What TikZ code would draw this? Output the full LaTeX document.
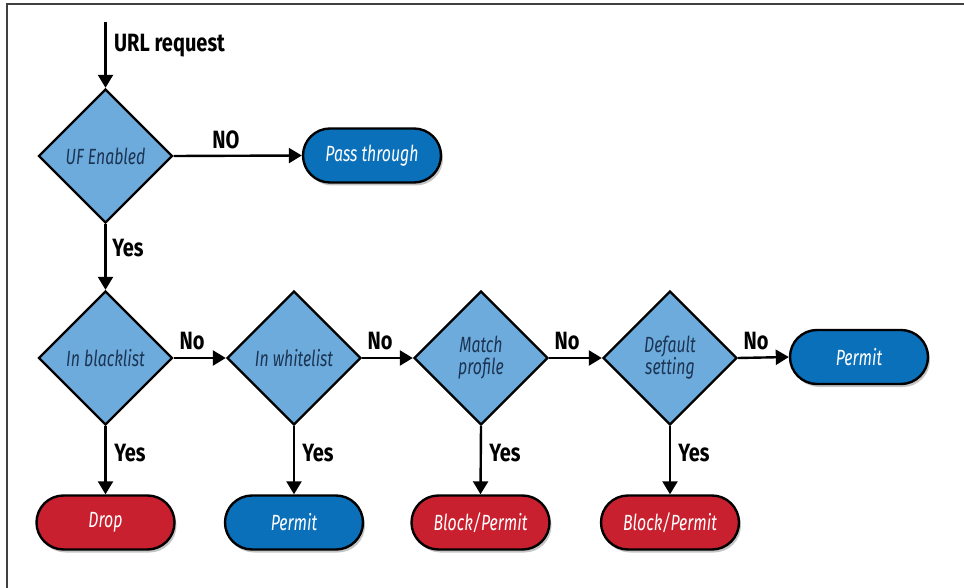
\documentclass[tikz,border=0pt]{standalone}
\usepackage{fontspec}
\setmainfont{Fira Sans}[FakeStretch=0.8, ItalicFeatures={FakeStretch=0.72}]
\usetikzlibrary{shapes.geometric,arrows.meta,shadows}
\definecolor{dfill}{RGB}{108,171,219}
\definecolor{dtext}{RGB}{28,52,84}
\definecolor{pblue}{RGB}{11,112,186}
\definecolor{pred}{RGB}{200,32,46}
\tikzset{
  decision/.style={diamond, draw=black, line width=2.4pt, fill=dfill,
    minimum width=134pt, minimum height=134pt, inner sep=0pt, align=center,
    font=\fontsize{22}{22}\selectfont\itshape, text=dtext},
  term/.style={rectangle, rounded corners=27pt, draw=black, line width=2.4pt,
    minimum width=138pt, minimum height=54pt, inner sep=0pt,
    font=\fontsize{22}{22}\selectfont\itshape, text=white,
    drop shadow={shadow xshift=2pt, shadow yshift=-3pt, fill=black!45, opacity=0.5}},
  arr/.style={line width=2.4pt, -{Triangle[length=13pt,width=15pt]}},
  lab/.style={font=\fontsize{25}{26}\selectfont\bfseries, text=black, inner sep=0pt}
}
\begin{document}
\begin{tikzpicture}[x=1pt,y=-1pt]
\useasboundingbox (0,0) rectangle (964,588);
\draw[line width=1.5pt, black!75] (7,588) -- (7,4) -- (964,4);

\node[decision] (uf) at (105.5,156) {UF Enabled};
\node[term, fill=pblue] (pass) at (372,155.5) {Pass through};
\coordinate (start) at (105.5,22);
\draw[arr] (start) -- (uf.north);
\node[lab, anchor=west] (url) at (114,46) {URL request};
\draw[arr] (uf.east) -- (pass.west);
\node[lab] (no0) at (226,140) {NO};

\node[decision] (bl) at (105.5,358) {In blacklist};
\node[decision] (wl) at (294,358) {In whitelist};
\node[decision] (mp) at (481,358) {Match\\profile};
\node[decision] (ds) at (670,358) {Default\\setting};
\node[term, fill=pblue] (perm1) at (859,357) {Permit};

\draw[arr] (uf.south) -- (bl.north);
\node[lab] (y0) at (128,248) {Yes};

\draw[arr] (bl.east) -- (wl.west);
\node[lab] (n1) at (192,341) {No};
\draw[arr] (wl.east) -- (mp.west);
\node[lab] (n2) at (380,341) {No};
\draw[arr] (mp.east) -- (ds.west);
\node[lab] (n3) at (567,341) {No};
\draw[arr] (ds.east) -- (perm1.west);
\node[lab] (n4) at (756,341) {No};

\node[term, fill=pred] (drop) at (105.5,522.5) {Drop};
\node[term, fill=pblue] (perm2) at (294,522.5) {Permit};
\node[term, fill=pred] (bp1) at (480.5,522.5) {Block/Permit};
\node[term, fill=pred] (bp2) at (670,522.5) {Block/Permit};

\draw[arr] (bl.south) -- (drop.north);
\node[lab] (y1) at (130,453) {Yes};
\draw[arr] (wl.south) -- (perm2.north);
\node[lab] (y2) at (318,453) {Yes};
\draw[arr] (mp.south) -- (bp1.north);
\node[lab] (y3) at (505,453) {Yes};
\draw[arr] (ds.south) -- (bp2.north);
\node[lab] (y4) at (694,453) {Yes};
\end{tikzpicture}
\end{document}
